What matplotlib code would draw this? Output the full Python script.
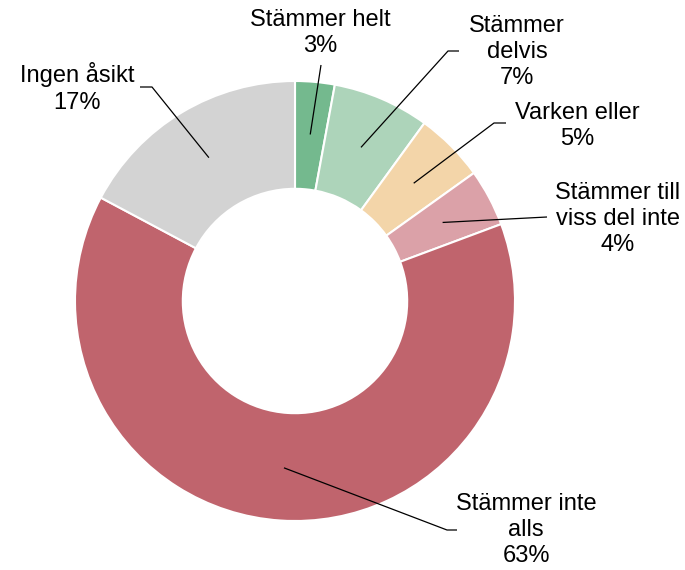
import numpy as np
import matplotlib.pyplot as plt

plt.rcParams['font.family'] = ['Liberation Sans', 'DejaVu Sans']

categories = ["Stämmer helt", "Stämmer\ndelvis", "Varken eller",
              "Stämmer till\nviss del inte", "Stämmer inte\nalls", "Ingen åsikt"]
values = [2.9, 7.1, 5.1, 4.2, 63.4, 17.2]
colors = ["#74B98E", "#ADD4BA", "#F3D5A9", "#DBA1A8", "#C0646D", "#D3D3D3"]

# layout in pixels: label centre and leader line points (after the anchor)
W, H = 685, 570
CX, CY, R = 295, 301, 220
label_pos = [(320, 33), (517, 52), (577, 126), (618, 219), (526, 530), (77, 88)]
leader_pts = [[(321, 65)],
              [(448, 51), (459, 51)],
              [(494, 123), (506, 123)],
              [(547, 217)],
              [(447, 530), (457, 530)],
              [(152, 87), (140, 87)]]


def px(p):
    return ((p[0] - CX) / R, (CY - p[1]) / R)


fig = plt.figure(figsize=(W / 100, H / 100), dpi=100)
ax = fig.add_axes([0, 0, 1, 1])

wedges, _ = ax.pie(values, colors=colors, startangle=90, counterclock=False,
                   radius=1.0,
                   wedgeprops=dict(width=0.49, edgecolor='white', linewidth=1.5))

ax.set_xlim(-CX / R, (W - CX) / R)
ax.set_ylim(-(H - CY) / R, CY / R)
ax.set_aspect('equal', adjustable='box')
ax.axis('off')

for w, cat, v, lp, pts in zip(wedges, categories, values, label_pos, leader_pts):
    ang = np.deg2rad((w.theta1 + w.theta2) / 2)
    ax_ = 0.76 * np.cos(ang)
    ay_ = 0.76 * np.sin(ang)
    xs = [ax_] + [px(p)[0] for p in pts]
    ys = [ay_] + [px(p)[1] for p in pts]
    ax.plot(xs, ys, color='black', lw=0.9, solid_capstyle='butt')
    tx, ty = px(lp)
    ax.text(tx, ty, f"{cat}\n{round(v)}%", ha='center', va='center',
            fontsize=17, linespacing=1.25, color='black')

fig.savefig("out.png", dpi=100)
